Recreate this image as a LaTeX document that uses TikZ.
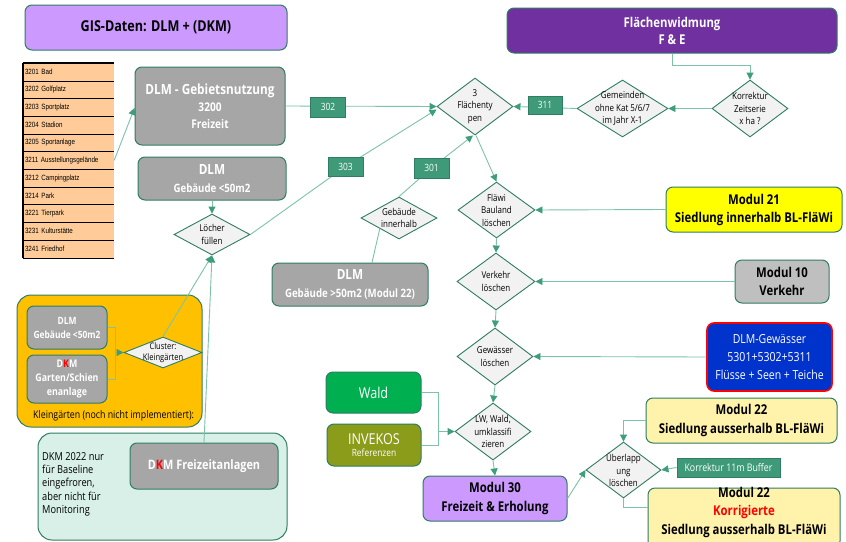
\documentclass[tikz,border=0pt]{standalone}
\usepackage{fontspec}
\setmainfont{Open Sans}[FakeStretch=0.84]
\newfontfamily\narrowfont{Liberation Sans}[FakeStretch=0.82]
\usetikzlibrary{arrows.meta,shapes.geometric}

\definecolor{edgegreen}{HTML}{2F7D62}
\definecolor{linegreen}{HTML}{7CC3A8}
\definecolor{tipgreen}{HTML}{3E9E7C}
\definecolor{tagfill}{HTML}{3E9A78}
\definecolor{boxgray}{HTML}{A6A6A6}
\definecolor{diafill}{HTML}{F2F2F2}
\definecolor{lavender}{HTML}{CC99FF}
\definecolor{widmung}{HTML}{7030A0}
\definecolor{peach}{HTML}{FFCC99}
\definecolor{modyellow}{HTML}{FFFF00}
\definecolor{paleyellow}{HTML}{FFF2AB}
\definecolor{lightgray}{HTML}{BFBFBF}
\definecolor{waterblue}{HTML}{0033CC}
\definecolor{forest}{HTML}{00B050}
\definecolor{olive}{HTML}{8B9B1A}
\definecolor{amber}{HTML}{FFC000}
\definecolor{mint}{HTML}{D8F0E7}
\definecolor{kred}{HTML}{FF0000}

\pgfdeclarelayer{bg}
\pgfdeclarelayer{front}
\pgfsetlayers{bg,main,front}

\newcommand{\fs}[2]{\fontsize{#1}{#2}\selectfont}

\begin{document}
\begin{tikzpicture}[x=1pt,y=-1pt,
  box/.style={rectangle, rounded corners=7pt, draw=edgegreen, line width=1pt,
    align=center, inner sep=0pt},
  graybox/.style={box, fill=boxgray, text=white, font=\bfseries},
  dia/.style={shape=diamond, draw=edgegreen, fill=diafill, line width=0.9pt, inner sep=0pt},
  diatxt/.style={align=center, inner sep=0pt, font=\fs{9.5}{12.5}},
  tag/.style={rectangle, fill=tagfill, draw=edgegreen, line width=0.6pt, text=white,
    inner sep=0pt, font=\fs{10}{12}},
  cell/.style={rectangle, fill=peach, inner xsep=2pt, inner ysep=0pt, minimum height=17.7pt,
    text width=87pt, align=left, font=\narrowfont\fs{7.6}{8}},
  conn/.style={draw=linegreen, line width=0.9pt},
  arr/.style={conn, -{Triangle[width=7pt,length=7pt,color=tipgreen]}},
  note/.style={inner sep=0pt, align=left}]

\useasboundingbox (0,0) rectangle (846,541);

% ---------- page and group panels ----------
\begin{pgfonlayer}{bg}
\fill[white] (0,0) rectangle (846,541);
\node[box, fill=amber, minimum width=185pt, minimum height=132pt, rounded corners=14pt]
  (kggroup) at (109.5,361) {};
\node[box, fill=mint, minimum width=249pt, minimum height=107pt, rounded corners=14pt]
  (dkmgroup) at (162.5,486.5) {};
\end{pgfonlayer}

% ---------- headers ----------
\node[box, fill=lavender, minimum width=262pt, minimum height=45pt, font=\bfseries\fs{15}{18}]
  (gis) at (156,27.5) {GIS-Daten: DLM + (DKM)};
\node[box, fill=widmung, text=white, minimum width=330pt, minimum height=45pt,
  font=\bfseries\fs{13.5}{17}] (widm) at (672,30.5) {Flächenwidmung\\F \& E};

% ---------- Freizeit code table ----------
\foreach \t [count=\i] in {3201 Bad, 3202 Golfplatz, 3203 Sportplatz, 3204 Stadion,
  3205 Sportanlage, 3211 Ausstellungsgelände, 3212 Campingplatz, 3214 Park,
  3221 Tierpark, 3231 Kulturstätte, 3241 Friedhof}
  \node[cell] (row\i) at (68.5,{63+(\i-0.5)*17.7}) {\t};
\foreach \i in {1,...,11}
  \draw[line width=0.8pt] (row\i.south west) -- (row\i.south east);
\draw[line width=2pt] (row1.north west) -- (row1.north east);
\draw[line width=2.6pt] (row1.north west) -- (row11.south west);

% ---------- DLM sources ----------
\node[graybox, minimum width=150pt, minimum height=78pt, font=\bfseries\fs{12}{17}]
  (gebiet) at (210,106)
  {{\fs{14}{17}DLM - Gebietsnutzung}\\3200\\Freizeit};
\node[graybox, minimum width=148pt, minimum height=43pt, font=\bfseries\fs{11.5}{18}]
  (geb50) at (212,178.5) {{\fs{14}{18}DLM}\\Gebäude <50m2};
\node[graybox, minimum width=156pt, minimum height=43pt, font=\bfseries\fs{11.5}{18}]
  (gebgross) at (350,284.5) {{\fs{14}{18}DLM}\\Gebäude >50m2 (Modul 22)};

% ---------- decisions ----------
\node[dia, minimum width=76pt, minimum height=41pt] (loecher) at (212,234.5) {};
\node[diatxt] (loechertxt) at (loecher) {Löcher\\füllen};
\node[dia, minimum width=76pt, minimum height=57pt] (flaechen) at (475,106.5) {};
\node[diatxt] (flaechentxt) at (flaechen) {3\\Flächenty\\pen};
\node[dia, minimum width=76pt, minimum height=42pt] (innerh) at (399,218) {};
\node[diatxt] (innerhtxt) at (innerh) {Gebäude\\innerhalb};
\node[dia, minimum width=76pt, minimum height=57pt] (korrektur) at (750,108.5) {};
\node[diatxt] (korrekturtxt) at (korrektur) {Korrektur\\Zeitserie\\x ha ?};
\node[dia, minimum width=91pt, minimum height=57pt] (gemeinden) at (622.5,108.5) {};
\node[diatxt] (gemeindentxt) at (gemeinden) {Gemeinden\\ohne Kat 5/6/7\\im Jahr X-1};
\node[dia, minimum width=77pt, minimum height=56pt] (flaewi) at (496.5,210) {};
\node[diatxt] (flaewitxt) at (flaewi) {Fläwi\\Bauland\\löschen};
\node[dia, minimum width=78pt, minimum height=57pt] (verkehr) at (496,281.5) {};
\node[diatxt] (verkehrtxt) at (verkehr) {Verkehr\\löschen};
\node[dia, minimum width=76pt, minimum height=57pt] (gewaesser) at (495,356.5) {};
\node[diatxt] (gewaessertxt) at (gewaesser) {Gewässer\\löschen};
\node[dia, minimum width=76pt, minimum height=57pt] (lwwald) at (493,431.5) {};
\node[diatxt] (lwwaldtxt) at (lwwald) {LW, Wald,\\umklassifi\\zieren};
\node[dia, minimum width=75pt, minimum height=56pt] (ueberl) at (623.5,470) {};
\node[diatxt] (ueberltxt) at (ueberl) {Überlapp\\ung\\löschen};

% ---------- modules ----------
\node[box, fill=modyellow, minimum width=176pt, minimum height=45pt,
  font=\bfseries\fs{13.5}{18}] (m21) at (754,209.5) {Modul 21\\Siedlung innerhalb BL-FläWi};
\node[box, fill=lightgray, minimum width=94pt, minimum height=43pt,
  font=\bfseries\fs{13.5}{18}] (m10) at (782,281.5) {Modul 10\\Verkehr};
\node[box, fill=waterblue, draw=kred, line width=1.6pt, text=white, minimum width=125pt,
  minimum height=68pt, font=\fs{12.5}{18}] (water) at (769.5,357)
  {DLM-Gewässer\\5301+5302+5311\\Flüsse + Seen + Teiche};
\node[box, fill=forest, text=white, minimum width=95pt, minimum height=41pt,
  font=\fs{15}{18}] (wald) at (373.5,392.5) {Wald};
\node[box, fill=olive, text=white, minimum width=94pt, minimum height=42pt]
  (invekos) at (374,445) {{\fs{15}{18}INVEKOS}\\{\fs{10}{13}Referenzen}};
\node[box, fill=lavender, minimum width=144pt, minimum height=45pt,
  font=\bfseries\fs{13.5}{19}] (m30) at (495,498.5) {Modul 30\\Freizeit \& Erholung};
\node[box, fill=paleyellow, minimum width=191pt, minimum height=45pt,
  font=\bfseries\fs{13.5}{19}] (m22a) at (741.5,420.5)
  {Modul 22\\Siedlung ausserhalb BL-FläWi};
\node[box, fill=paleyellow, minimum width=192pt, minimum height=60pt] (m22b) at (744,518) {};
\node[inner sep=0pt, align=center, font=\bfseries\fs{13.5}{18.5}] (m22btxt) at (744,512)
  {Modul 22\\\textcolor{kred}{Korrigierte}\\Siedlung ausserhalb BL-FläWi};

% ---------- Kleingärten panel ----------
\node[graybox, minimum width=80pt, minimum height=43pt, font=\bfseries\fs{10}{14}]
  (kgdlm) at (67,327.5) {DLM\\Gebäude <50m2};
\node[graybox, minimum width=80pt, minimum height=48pt, font=\bfseries\fs{10.5}{14}]
  (kgdkm) at (67,379) {D\textcolor{kred}{K}M\\Garten/Schien\\enanlage};
\node[dia, minimum width=78pt, minimum height=31pt] (cluster) at (163,352.5) {};
\node[diatxt, font=\fs{9}{11}] (clustertxt) at (cluster) {Cluster:\\Kleingärten};
\node[note, anchor=base west, font=\fs{10.5}{13}] (kgnote) at (33,418)
  {Kleingärten (noch nicht implementiert):};

% ---------- DKM panel ----------
\node[graybox, minimum width=148pt, minimum height=46pt, font=\bfseries\fs{13}{16}]
  (dkmfrei) at (204,466) {D\textcolor{kred}{K}M Freizeitanlagen};
\node[note, anchor=north west, font=\fs{11}{13.4}] (dkmnote) at (42,452)
  {DKM 2022 nur\\für Baseline\\eingefroren,\\aber nicht für\\Monitoring};

% ---------- numbered flow tags ----------
\begin{pgfonlayer}{front}
\node[tag, minimum width=35pt, minimum height=20pt] (t302) at (328,107) {302};
\node[tag, minimum width=35pt, minimum height=19pt] (t303) at (345.5,166.5) {303};
\node[tag, minimum width=35pt, minimum height=20pt] (t301) at (431.5,168) {301};
\node[tag, minimum width=34pt, minimum height=18pt] (t311) at (545,105) {311};
\node[tag, minimum width=103pt, minimum height=19pt, font=\fs{10.5}{12}] (k11) at (728.5,467.5)
  {Korrektur 11m Buffer};
\end{pgfonlayer}

% ---------- connectors ----------
\draw[arr] (row6.east) -- ([yshift=-2pt]gebiet.west);
\draw[arr] (geb50.south) -- (loecher.north);
\draw[arr] (gebiet.east) -- (flaechen.west);
\draw[arr] (loecher.east) -- (t303.center) -- ([yshift=-3pt]flaechen.west);
\draw[arr] (innerh.north) -- (t301.center) -- ([xshift=-2pt]flaechen.south);
\draw[conn] ([xshift=22pt]gebgross.north) -- (innerh.south west);
\draw[arr] ([xshift=1pt]flaechen.south) -- (flaewi.north);
\draw[arr] (widm.south) -- ++(0,12) -| (korrektur.north);
\draw[arr] (korrektur.west) -- (gemeinden.east);
\draw[arr] (gemeinden.west) -- (flaechen.east);
\draw[arr] (m21.west) -- (flaewi.east);
\draw[arr] (flaewi.south) -- (verkehr.north);
\draw[arr] (m10.west) -- (verkehr.east);
\draw[arr] (verkehr.south) -- (gewaesser.north);
\draw[arr] (water.west) -- (gewaesser.east);
\draw[arr] (gewaesser.south) -- (lwwald.north);
\coordinate (lwjoin) at (438,431.5);
\draw[conn] (wald.east) -| (lwjoin);
\draw[conn] (invekos.east) -| (lwjoin);
\draw[arr] (lwjoin) -- (lwwald.west);
\draw[arr] (lwwald.south) -- (m30.north);
\draw[arr] (m30.east) -- (ueberl.west);
\draw[arr] (m22a.west) -| (ueberl.north);
\draw[arr] (k11.west) -- (ueberl.east);
\draw[conn] (ueberl.south) |- ([yshift=11pt]m22b.west);
\coordinate (kgjoin) at (115,352.5);
\draw[conn] (kgdlm.east) -| (kgjoin);
\draw[conn] (kgdkm.east) -| (kgjoin);
\draw[arr] (kgjoin) -- (cluster.west);
\draw[arr] (cluster.north) -- (loecher.south);
\draw[arr] (dkmfrei.north) -- (loecher.south);
\end{tikzpicture}
\end{document}
